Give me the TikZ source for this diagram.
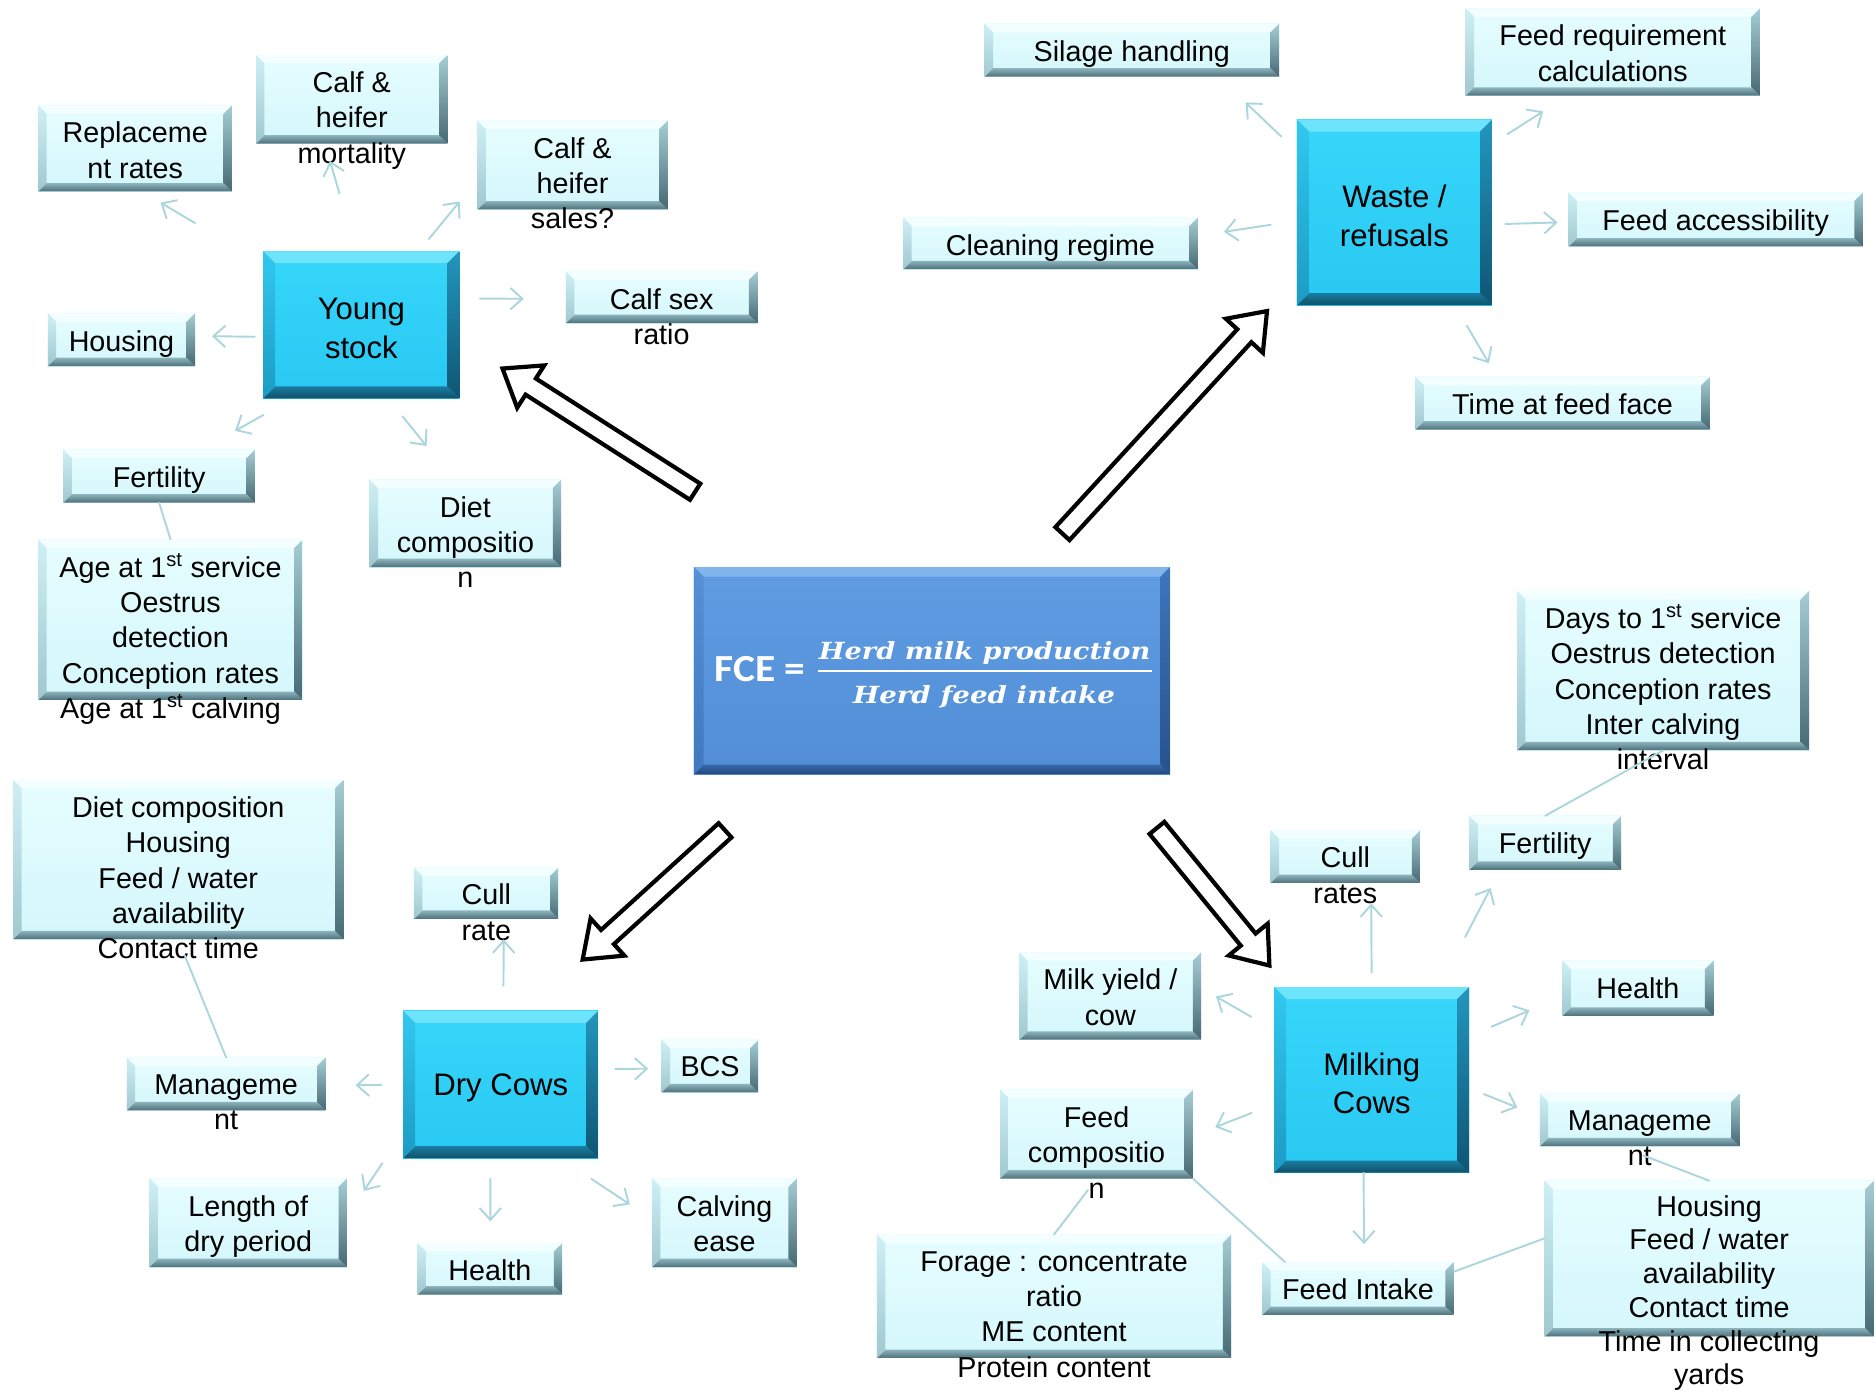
\documentclass[tikz,border=0pt]{standalone}
\usepackage{fontspec}
\usepackage{graphicx}
\setmainfont{Liberation Sans}
\newfontfamily\fcefont{Carlito}
\newfontfamily\fracfont{DejaVu Serif}
\usetikzlibrary{arrows.meta,calc}

\definecolor{lfillT}{RGB}{230,253,255}
\definecolor{lfillB}{RGB}{212,247,251}
\definecolor{ltop}{RGB}{242,254,255}
\definecolor{lleftA}{RGB}{205,240,245}
\definecolor{lleftB}{RGB}{160,200,207}
\definecolor{lrightA}{RGB}{165,205,212}
\definecolor{lrightB}{RGB}{70,105,115}
\definecolor{lbotA}{RGB}{140,180,188}
\definecolor{lbotB}{RGB}{78,112,122}
\definecolor{dfillT}{RGB}{55,214,250}
\definecolor{dfillB}{RGB}{40,200,242}
\definecolor{dtop}{RGB}{110,228,252}
\definecolor{dleftA}{RGB}{50,200,240}
\definecolor{dleftB}{RGB}{28,155,195}
\definecolor{drightA}{RGB}{35,150,190}
\definecolor{drightB}{RGB}{15,85,115}
\definecolor{dbotA}{RGB}{25,125,160}
\definecolor{dbotB}{RGB}{15,80,105}
\definecolor{ffillT}{RGB}{96,156,226}
\definecolor{ffillB}{RGB}{82,142,214}
\definecolor{ftop}{RGB}{128,180,236}
\definecolor{fleftA}{RGB}{85,145,215}
\definecolor{fleftB}{RGB}{65,120,190}
\definecolor{frightA}{RGB}{62,118,188}
\definecolor{frightB}{RGB}{38,82,140}
\definecolor{fbotA}{RGB}{55,105,170}
\definecolor{fbotB}{RGB}{35,72,125}
\definecolor{cln}{RGB}{170,214,220}

\newcommand\bev[8]{%
  \path (path picture bounding box.north west) coordinate (bNW)
        (path picture bounding box.north east) coordinate (bNE)
        (path picture bounding box.south west) coordinate (bSW)
        (path picture bounding box.south east) coordinate (bSE);
  \fill[#2] (bNW) -- (bNE) -- ([xshift=-#1,yshift=-#1]bNE) -- ([xshift=#1,yshift=-#1]bNW) -- cycle;
  \shade[top color=#3, bottom color=#4] (bSW) -- (bSE) -- ([xshift=-#1,yshift=#1]bSE) -- ([xshift=#1,yshift=#1]bSW) -- cycle;
  \shade[top color=#5, bottom color=#6] (bNW) -- (bSW) -- ([xshift=#1,yshift=#1]bSW) -- ([xshift=#1,yshift=-#1]bNW) -- cycle;
  \shade[top color=#7, bottom color=#8] (bNE) -- (bSE) -- ([xshift=-#1,yshift=#1]bSE) -- ([xshift=-#1,yshift=-#1]bNE) -- cycle;
}

\tikzset{
  lbox/.style={rectangle, inner sep=0pt, top color=lfillT, bottom color=lfillB,
    path picture={\bev{7pt}{ltop}{lbotA}{lbotB}{lleftA}{lleftB}{lrightA}{lrightB}}},
  ltxt/.style={anchor=north, inner sep=0pt, align=center, text=black,
    font=\fontsize{24}{29.5}\selectfont},
  dbox/.style={rectangle, inner sep=0pt, top color=dfillT, bottom color=dfillB,
    path picture={\bev{10pt}{dtop}{dbotA}{dbotB}{dleftA}{dleftB}{drightA}{drightB}}},
  dtxt/.style={inner sep=0pt, align=center, text=black,
    font=\fontsize{26}{32}\selectfont},
  fbox/.style={rectangle, inner sep=0pt, top color=ffillT, bottom color=ffillB,
    path picture={\bev{8pt}{ftop}{fbotA}{fbotB}{fleftA}{fleftB}{frightA}{frightB}}},
  conn/.style={draw=cln, line width=1.6pt, line cap=round,
    -{Straight Barb[length=10pt,width=18pt]}},
  plainln/.style={draw=cln, line width=1.6pt, line cap=round},
  bigarr/.style={draw=black, line width=3.5pt, fill=white, line join=miter}
}

\newcommand\sts{\smash{\textsuperscript{st}}}
\newcommand\mkbox[7][]{%
  \node[lbox, minimum width={(#5-#3)*1pt}, minimum height={(#6-#4)*1pt}] (#2) at ({(#3+#5)/2},{(#4+#6)/2}) {};
  \node[ltxt,#1] (#2t) at ([yshift=-14pt]#2.north) {#7};
}
\newcommand\mkdbox[6]{%
  \node[dbox, minimum width={(#4-#2)*1pt}, minimum height={(#5-#3)*1pt}] (#1) at ({(#2+#4)/2},{(#3+#5)/2}) {};
  \node[dtxt] (#1t) at ([yshift=-3pt]#1.center) {#6};
}
\newcommand\cn[6]{\draw[conn, shorten <=#5pt, shorten >=#6pt] (#1.#2) -- (#3.#4);}
\newcommand\bigarrow[2]{%
  \draw[bigarr] let \p1=($(#2)-(#1)$), \n1={atan2(\y1,\x1)}, \n2={veclen(\x1,\y1)} in
    [shift={(#1)}, rotate=\n1]
    (0pt,-8pt) -- ({(\n2-28)*1pt},-8pt) -- ({(\n2-28)*1pt},-21pt) -- ({\n2*1pt},0pt)
    -- ({(\n2-28)*1pt},21pt) -- ({(\n2-28)*1pt},8pt) -- (0pt,8pt) -- cycle;
}

\begin{document}
\begin{tikzpicture}[x=1pt,y=-1pt]
\fill[white] (0,0) rectangle (1568,1165);
\useasboundingbox (0,0) rectangle (1568,1165);

% ---------- Young stock cluster
\mkbox{rep}{32}{88}{194}{160}{Replaceme\\nt rates}
\mkbox{mort}{214}{46}{374}{120}{Calf \&\\heifer\\mortality}
\mkbox{sales}{399}{101}{558}{175}{Calf \&\\heifer\\sales?}
\mkdbox{ys}{220}{210}{384}{333}{Young\\stock}
\mkbox{yhous}{40}{262}{163}{306}{Housing}
\mkbox{csex}{473}{227}{633}{270}{Calf sex\\ratio}
\mkbox{yfert}{53}{376}{213}{420}{Fertility}
\mkbox{yage}{32}{451}{253}{585}{Age at 1\sts{} service\\Oestrus\\detection\\Conception rates\\Age at 1\sts{} calving}
\mkbox{ydiet}{309}{401}{469}{474}{Diet\\compositio\\n}

% ---------- Waste cluster
\mkbox{silage}{823}{20}{1069}{64}{Silage handling}
\mkbox{feedreq}{1225}{7}{1471}{80}{Feed requirement\\calculations}
\mkdbox{waste}{1084}{100}{1247}{255}{Waste /\\refusals}
\mkbox{clean}{755}{182}{1001}{225}{Cleaning regime}
\mkbox{feedacc}{1311}{161}{1557}{206}{Feed accessibility}
\mkbox{timeff}{1183}{315}{1429}{359}{Time at feed face}

% ---------- Dry cows cluster
\mkbox{ddiet}{11}{652}{287}{785}{Diet composition\\Housing\\Feed / water\\availability\\Contact time}
\mkbox{dcull}{346}{725}{467}{768}{Cull\\rate}
\mkdbox{dry}{337}{845}{500}{968}{Dry Cows}
\mkbox{dmgmt}{106}{884}{272}{928}{Manageme\\nt}
\mkbox{bcs}{553}{869}{634}{913}{BCS}
\mkbox{dlen}{125}{985}{290}{1059}{Length of\\dry period}
\mkbox{dhealth}{349}{1039}{470}{1082}{Health}
\mkbox{calv}{545}{985}{666}{1059}{Calving\\ease}

% ---------- Milking cows cluster
\mkbox{mcull}{1062}{694}{1187}{738}{Cull\\rates}
\mkbox{mfert}{1228}{682}{1355}{727}{Fertility}
\mkbox{mdays}{1268}{494}{1512}{627}{Days to 1\sts{} service\\Oestrus detection\\Conception rates\\Inter calving\\interval}
\mkbox{milky}{852}{796}{1004}{869}{Milk yield /\\cow}
\mkbox{mhealth}{1306}{803}{1432}{849}{Health}
\mkdbox{milk}{1065}{825}{1228}{980}{Milking\\Cows}
\mkbox{fcomp}{836}{911}{997}{985}{Feed\\compositio\\n}
\mkbox{mmgmt}{1287}{914}{1454}{958}{Manageme\\nt}
\mkbox[font=\fontsize{24}{28.2}\selectfont, yshift=2pt]{mhous}{1291}{987}{1566}{1117}{Housing\\Feed / water\\availability\\Contact time\\Time in collecting\\yards}
\mkbox{forage}{733}{1032}{1029}{1135}{Forage : concentrate\\ratio\\ME content\\Protein content}
\mkbox{fintake}{1055}{1055}{1215}{1099}{Feed Intake}

% ---------- FCE box
\node[fbox, minimum width=398pt, minimum height=173pt] (fce) at (779,560.5) {};
\node[anchor=base west, inner sep=0pt, text=white] (fcel) at (597,570)
  {\resizebox{76pt}{21pt}{\fcefont\bfseries FCE =}};
\node[anchor=base, inner sep=0pt, text=white] (fnum) at (823,551)
  {\resizebox{277pt}{15pt}{\fracfont\bfseries\itshape Herd milk production}};
\node[anchor=base, inner sep=0pt, text=white] (fden) at (822.5,588)
  {\resizebox{219pt}{15pt}{\fracfont\bfseries\itshape Herd feed intake}};
\draw[white, line width=2pt] (684,561) -- (963,561);

% ---------- big hollow arrows
\coordinate (aYs) at (581,411); \coordinate (aYe) at (420,308);
\coordinate (aWs) at (888,446); \coordinate (aWe) at (1059,260);
\coordinate (aDs) at (606,694); \coordinate (aDe) at (487,802);
\coordinate (aMs) at (967,692); \coordinate (aMe) at (1061,807);
\bigarrow{aYs}{aYe}
\bigarrow{aWs}{aWe}
\bigarrow{aDs}{aDe}
\bigarrow{aMs}{aMe}

% ---------- connectors: young stock
\cn{ys}{148}{rep}{279}{66}{18}
\cn{ys}{94}{mort}{239}{50}{15}
\cn{ys}{52}{sales}{189}{13}{23}
\cn{ys}{15}{csex}{181}{17}{35}
\cn{ys}{187}{yhous}{3}{7}{14}
\cn{ys}{227}{yfert}{32}{28}{32}
\cn{ys}{290}{ydiet}{105}{19}{36}
\draw[plainln] (yfert.south) -- (yage.north);

% ---------- connectors: waste
\cn{waste}{148}{silage}{343}{18}{31}
\cn{waste}{35}{feedreq}{224}{15}{24}
\cn{waste}{185}{clean}{3}{22}{22}
\cn{waste}{353}{feedacc}{181}{11}{9}
\cn{waste}{303}{timeff}{158}{20}{13}

% ---------- connectors: dry cows
\cn{dry}{88}{dcull}{304}{21}{17}
\cn{dry}{180}{dmgmt}{359}{18}{25}
\cn{dry}{9}{bcs}{183}{14}{11}
\cn{dry}{206}{dlen}{4}{31}{25}
\cn{dry}{262}{dhealth}{89}{17}{18}
\cn{dry}{309}{calv}{177}{31}{22}
\draw[plainln, shorten >=14pt] (dmgmt.north) -- (ddiet.south);

% ---------- connectors: milking cows
\cn{milk}{90}{mcull}{314}{12}{17}
\cn{milk}{54}{mfert}{211}{47}{17}
\cn{milk}{24}{mhealth}{186}{20}{30}
\cn{milk}{355}{mmgmt}{178}{13}{20}
\cn{milk}{265}{fintake}{77}{0}{15}
\cn{milk}{153}{milky}{5}{22}{14}
\cn{milk}{194}{fcomp}{359}{20}{20}
\draw[plainln] (fcomp.south east) -- (fintake.160);
\draw[plainln, shorten >=12pt] (forage.north) -- (fcomp.south);
\draw[plainln] (fintake.10) -- (mhous.173);
\draw[plainln, shorten <=21pt] (mmgmt.233) -- (mhous.north);
\draw[plainln] (mfert.north) -- (mdays.south);
\end{tikzpicture}
\end{document}
